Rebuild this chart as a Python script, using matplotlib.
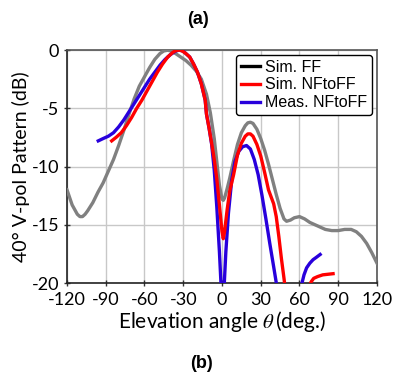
import numpy as np
import matplotlib
matplotlib.use("Agg")
import matplotlib.pyplot as plt
from matplotlib.lines import Line2D

# ========= Data =========
theta_ff = [-120, -116, -112, -110, -108, -106, -104, -100, -96, -92, -88, -84, -80, -76,
            -72, -68, -64, -60, -56, -52, -48, -45, -42, -39, -36, -32, -28, -24, -20, -16,
            -12, -9, -6, -4, -2, 0, 1, 2, 4, 6, 9, 12, 15, 18, 20, 22, 24, 27, 30, 33, 36,
            39, 42, 45, 48, 50, 53, 56, 60, 64, 68, 72, 76, 80, 85, 90, 95, 100, 104, 108,
            112, 116, 120]
sim_ff = [-12.0, -13.3, -14.1, -14.3, -14.3, -14.1, -13.8, -13.1, -12.2, -11.4, -10.4,
          -9.4, -8.2, -6.9, -5.5, -4.2, -3.1, -2.3, -1.5, -0.8, -0.3, -0.08, -0.02, -0.1,
          -0.3, -0.6, -0.9, -1.3, -1.8, -2.5, -3.8, -5.4, -7.6, -9.6, -11.6, -12.8, -12.9,
          -12.7, -11.9, -11.0, -9.5, -8.1, -7.1, -6.5, -6.25, -6.2, -6.3, -6.8, -7.6, -8.6,
          -9.8, -11.1, -12.4, -13.6, -14.5, -14.7, -14.6, -14.4, -14.3, -14.5, -14.8,
          -15.0, -15.2, -15.4, -15.5, -15.5, -15.4, -15.4, -15.6, -16.0, -16.6, -17.4,
          -18.3]

theta_nf = [-85.4, -82, -78, -74, -70, -66, -62, -58, -54, -50, -46, -42, -38, -35.5, -33,
            -30.5, -28, -25, -22, -19, -16, -13, -12, -10, -8, -6, -4, -2, 0, 1, 2, 4, 6,
            9, 12, 15, 18, 20, 22, 24, 27, 30, 33, 36, 40, 42, 44, 46, 48, 49.5]
sim_nf = [-7.8, -7.5, -7.1, -6.5, -5.8, -5.0, -4.3, -3.5, -2.7, -1.9, -1.2, -0.6, -0.2,
          -0.05, 0.0, -0.1, -0.3, -0.6, -1.2, -1.9, -2.9, -4.3, -5.5, -6.7, -8.0, -9.4,
          -11.1, -13.3, -15.6, -16.2, -15.6, -13.7, -12.1, -10.7, -9.0, -8.0, -7.4, -7.2,
          -7.2, -7.4, -8.1, -9.1, -10.5, -12.0, -13.2, -14.3, -16.0, -17.9, -19.6, -21.0]

theta_nf_tail = [67.5, 69, 71, 74, 78, 82, 86]
sim_nf_tail = [-20.3, -19.9, -19.6, -19.45, -19.3, -19.25, -19.2]

theta_meas = [-95.8, -92, -88, -84, -80, -76, -72, -68, -64, -60, -56, -52, -48, -44, -40,
              -36, -33, -30, -28, -25, -22, -19, -16, -13, -12, -10, -8, -6, -4, -2, -0.8,
              0.3, 1.8, 3, 5, 7.5, 10, 13, 16, 19, 22, 25, 28, 31, 34, 37, 40, 42.5]
meas_nf = [-7.8, -7.6, -7.4, -7.1, -6.6, -6.0, -5.3, -4.6, -3.9, -3.2, -2.5, -1.9, -1.3,
           -0.8, -0.4, -0.1, 0.0, -0.1, -0.3, -0.6, -1.2, -1.9, -2.9, -4.3, -5.5, -6.7,
           -8.1, -10.3, -13.5, -17.3, -20.0, -24.0, -20.0, -17.3, -14.0, -11.2, -9.6, -8.7,
           -8.3, -8.2, -8.5, -9.4, -10.7, -12.5, -14.5, -16.6, -18.6, -20.3]

theta_meas_tail = [61.5, 63.5, 65.5, 68, 70.5, 73, 76]
meas_tail = [-20.2, -19.3, -18.7, -18.3, -18.0, -17.8, -17.55]

xticks = [-120, -90, -60, -30, 0, 30, 60, 90, 120]
yticks = [0, -5, -10, -15, -20]

# ========= Plot =========
plt.rcParams['mathtext.fontset'] = 'stix'
tick_font = 'Lato'

fig = plt.figure(figsize=(3.95, 3.74), dpi=100)
ax = fig.add_axes([0.1696, 0.2433, 0.7848, 0.6230])

gray = '#808080'
red = '#ff0000'
blue = '#2800dc'
lw = 2.4

ax.plot(theta_ff, sim_ff, color=gray, lw=lw, zorder=3, solid_joinstyle='round')
ax.plot(theta_meas, meas_nf, color=blue, lw=lw, zorder=4, solid_joinstyle='round')
ax.plot(theta_meas_tail, meas_tail, color=blue, lw=lw, zorder=4)
ax.plot(theta_nf, sim_nf, color=red, lw=lw, zorder=5, solid_joinstyle='round')
ax.plot(theta_nf_tail, sim_nf_tail, color=red, lw=lw, zorder=5)

ax.set_xlim(-120, 120)
ax.set_ylim(-20, 0)
ax.set_xticks(xticks)
ax.set_yticks(yticks)
ax.set_xticklabels([str(t) for t in xticks], fontfamily=tick_font, fontsize=13)
ax.set_yticklabels([str(t) for t in yticks], fontfamily=tick_font, fontsize=13)
ax.tick_params(direction='inout', length=5, width=1, color='#333333')
ax.tick_params(axis='x', pad=4)
ax.tick_params(axis='y', pad=3)
ax.grid(True, color='#c8c8c8', lw=1)
ax.set_axisbelow(True)
for side in ['top', 'right']:
    ax.spines[side].set_color('#555555')
for side in ['left', 'bottom']:
    ax.spines[side].set_color('#222222')
for s in ax.spines.values():
    s.set_linewidth(1.2)

ax.set_xlabel('Elevation angle $\\theta\\,$(deg.)', fontfamily=tick_font, fontsize=15, labelpad=1)
ax.set_ylabel('40° V-pol Pattern (dB)', fontfamily=tick_font, fontsize=14, labelpad=1)

handles = [Line2D([], [], color='black', lw=lw),
           Line2D([], [], color=red, lw=lw),
           Line2D([], [], color=blue, lw=lw)]
leg = ax.legend(handles, ['Sim. FF', 'Sim. NFtoFF', 'Meas. NFtoFF'], loc='upper right',
                prop={'family': 'Liberation Sans', 'size': 11.5}, handlelength=1.2,
                handletextpad=0.35, labelspacing=0.18, borderpad=0.3,
                borderaxespad=0.3, fancybox=True, framealpha=1, edgecolor='black')
leg.get_frame().set_linewidth(1.0)
leg.set_zorder(10)

fig.text(0.5, 0.947, '(a)', ha='center', va='center', fontfamily='Liberation Sans',
         fontweight='bold', fontsize=13)
fig.text(0.511, 0.029, '(b)', ha='center', va='center', fontfamily='Liberation Sans',
         fontweight='bold', fontsize=13)

fig.savefig('out.png', dpi=100)
